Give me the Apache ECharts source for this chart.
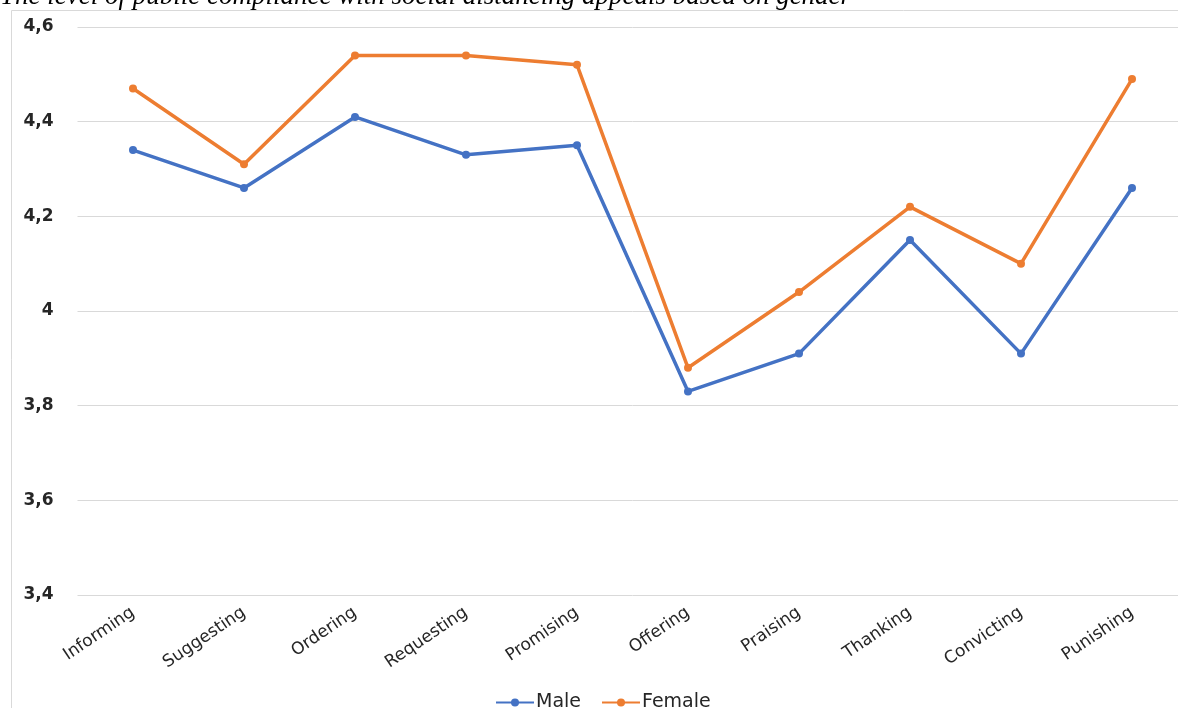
<!DOCTYPE html>
<html lang="en">
    <head>
        <meta http-equiv="Content-Type" content="text/html; charset=utf-8" />
        <title>Compliance by gender</title>
        <style>
            * {
                margin: 0;
                padding: 0;
                box-sizing: border-box;
            }
            html,
            body {
                width: 100%;
                height: 100%;
                background: #fff;
                overflow: hidden;
            }
            #chart {
                /* a bit wider than the window so the last band is cut off like in the source */
                width: 1200px;
                height: 708px;
            }
        </style>
    </head>
    <body>
        <div id="chart"></div>
        <script src="https://cdn.jsdelivr.net/npm/echarts@6/dist/echarts.min.js"></script>
        <script>
            const categories = ['Informing', 'Suggesting', 'Ordering', 'Requesting', 'Promising', 'Offering', 'Praising', 'Thanking', 'Convicting', 'Punishing']
            const male = [4.34, 4.26, 4.41, 4.33, 4.35, 3.83, 3.91, 4.15, 3.91, 4.26]
            const female = [4.47, 4.31, 4.54, 4.54, 4.52, 3.88, 4.04, 4.22, 4.1, 4.49]
            const titleText = 'The level of public compliance with social distancing appeals based on gender'

            const chart = echarts.init(document.getElementById('chart'))
            // wide sans, the reference picture is stretched sideways
            const labelFont = 'DejaVu Sans, Verdana, sans-serif'

            function makeSeries(name, data, color) {
                return {
                    name,
                    type: 'line',
                    data,
                    symbol: 'circle',
                    symbolSize: 8,
                    lineStyle: { width: 3.5, color },
                    itemStyle: { color },
                    emphasis: { disabled: true },
                }
            }

            chart.setOption({
                animation: false,
                graphic: [
                    {
                        type: 'rect',
                        shape: { x: 11.5, y: 10.5, width: 1200, height: 720 },
                        style: { fill: 'none', stroke: '#d9d9d9', lineWidth: 1 },
                    },
                    {
                        type: 'text',
                        left: 0,
                        top: -17,
                        style: {
                            text: titleText,
                            font: 'italic 27px "Liberation Serif", "DejaVu Serif", serif',
                            fill: '#000',
                        },
                    },
                ],
                grid: {
                    left: 77.5,
                    width: 1110,
                    top: 27,
                    bottom: 113,
                    containLabel: false,
                },
                legend: {
                    data: ['Male', 'Female'],
                    left: 490,
                    top: 688,
                    itemWidth: 38,
                    itemHeight: 10,
                    itemGap: 20,
                    textStyle: { fontSize: 19, color: '#262626', fontFamily: labelFont, padding: [0, 0, 0, -3] },
                },
                xAxis: {
                    type: 'category',
                    data: categories,
                    boundaryGap: true,
                    axisLine: { show: false },
                    axisTick: { show: false },
                    axisLabel: {
                        rotate: 34,
                        margin: 16,
                        fontSize: 17,
                        color: '#262626',
                        fontFamily: labelFont,
                        interval: 0,
                    },
                },
                yAxis: {
                    type: 'value',
                    min: 3.4,
                    max: 4.6,
                    interval: 0.2,
                    axisLine: { show: false },
                    axisTick: { show: false },
                    splitLine: { lineStyle: { color: '#d9d9d9', width: 1 } },
                    axisLabel: {
                        margin: 24,
                        fontSize: 17,
                        fontWeight: 'bold',
                        color: '#262626',
                        fontFamily: labelFont,
                        formatter: (v) => String(Math.round(v * 10) / 10).replace('.', ','),
                    },
                },
                series: [makeSeries('Male', male, '#4472C4'), makeSeries('Female', female, '#ED7D31')],
            })
        </script>
    </body>
</html>
